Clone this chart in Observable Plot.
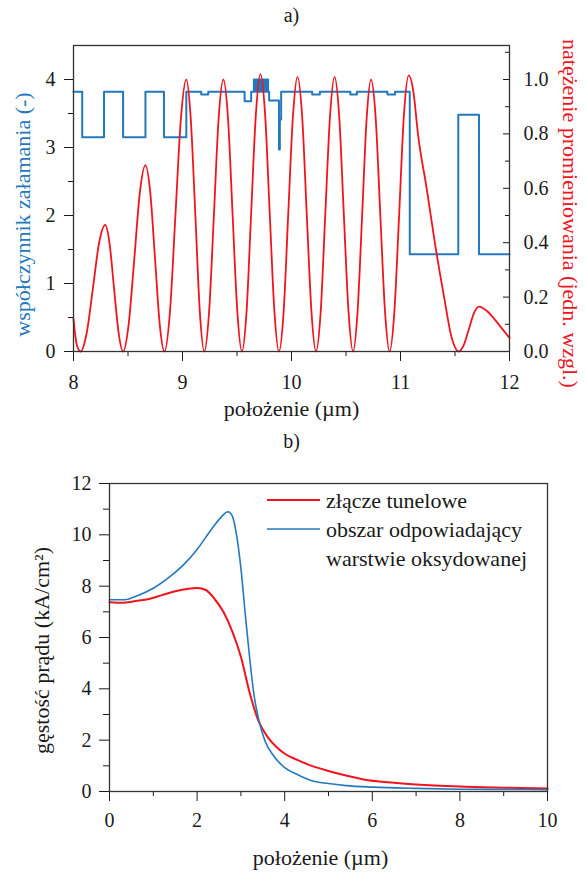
<!DOCTYPE html>
<html><head><meta charset="utf-8">
<script src="https://cdn.jsdelivr.net/npm/d3@7"></script>
<script src="https://cdn.jsdelivr.net/npm/@observablehq/plot@0.6"></script>
<style>
body{margin:0;background:#fff;}
#wrap{position:relative;width:587px;height:874px;font-family:'Liberation Serif','Times New Roman',Times,Tinos,'Nimbus Roman','Nimbus Roman No9 L','Noto Serif','DejaVu Serif',FreeSerif,serif;}
#wrap svg{display:block;}
#wrap svg text{font-family:'Liberation Serif','Times New Roman',Times,Tinos,'Nimbus Roman','Nimbus Roman No9 L','Noto Serif','DejaVu Serif',FreeSerif,serif;}
#legend{position:absolute;left:0;top:0;pointer-events:none;}
</style></head><body><div id="wrap"></div>
<script>
// ---------- Panel a data ----------
// refractive index profile (step-after breakpoints)
const stepX = [8.0, 8.08, 8.28, 8.455, 8.66, 8.83, 9.035, 9.172, 9.236, 9.57, 9.63,
  9.655, 9.665, 9.675, 9.685, 9.695, 9.705, 9.715, 9.725, 9.735, 9.745, 9.755, 9.765, 9.775, 9.785,
  9.795, 9.885, 9.893, 9.905, 10.19, 10.26, 10.54, 10.60, 10.88, 10.95, 11.085, 11.53, 11.72, 12.0];
const stepN = [3.82, 3.15, 3.82, 3.15, 3.82, 3.15, 3.82, 3.78, 3.82, 3.68, 3.82,
  4.0, 3.82, 4.0, 3.82, 4.0, 3.82, 4.0, 3.82, 4.0, 3.82, 4.0, 3.82, 4.0, 3.82,
  3.69, 2.97, 3.41, 3.82, 3.78, 3.82, 3.78, 3.82, 3.78, 3.82, 1.43, 3.48, 1.43, 1.43];
// optical intensity (relative units)
const intX = [8.00, 8.03, 8.065, 8.121, 8.178, 8.234, 8.29, 8.331, 8.372, 8.414, 8.455,
  8.506, 8.558, 8.609, 8.66, 8.704, 8.748, 8.791, 8.835, 8.885, 8.935, 8.985, 9.035,
  9.076, 9.118, 9.159, 9.20, 9.244, 9.288, 9.331, 9.375, 9.418, 9.46, 9.503, 9.545,
  9.588, 9.63, 9.673, 9.715, 9.758, 9.80, 9.843, 9.885, 9.928, 9.97, 10.013, 10.055,
  10.098, 10.14, 10.183, 10.225, 10.268, 10.31, 10.353, 10.395, 10.438, 10.48, 10.523, 10.565,
  10.606, 10.648, 10.689, 10.73, 10.773, 10.815, 10.858, 10.90, 10.944, 10.988, 11.031, 11.075,
  11.12, 11.16, 11.24, 11.315, 11.40, 11.47, 11.535, 11.581, 11.628, 11.674, 11.72,
  11.79, 11.86, 11.93, 12.0];
const intI = [0.12, 0.025, 0.0, 0.068, 0.232, 0.397, 0.465, 0.397, 0.232, 0.068, 0.0,
  0.100, 0.342, 0.585, 0.685, 0.585, 0.342, 0.100, 0.0, 0.146, 0.50, 0.854, 1.0,
  0.854, 0.50, 0.146, 0.0, 0.146, 0.50, 0.854, 1.0, 0.854, 0.50, 0.146, 0.0,
  0.149, 0.51, 0.871, 1.02, 0.871, 0.51, 0.149, 0.0, 0.147, 0.505, 0.863, 1.01,
  0.863, 0.505, 0.147, 0.0, 0.147, 0.505, 0.863, 1.01, 0.863, 0.505, 0.147, 0.0,
  0.146, 0.50, 0.854, 1.0, 0.854, 0.50, 0.146, 0.0, 0.148, 0.507, 0.867, 1.015,
  0.95, 0.80, 0.60, 0.40, 0.20, 0.05, 0.0, 0.024, 0.083, 0.141, 0.165,
  0.15, 0.12, 0.085, 0.05];
const xTicksA = [8, 9, 10, 11, 12];
const xMinorA = [8.5, 9.5, 10.5, 11.5];
const yTicksA = [0, 1, 2, 3, 4];
const yMinorA = [0.5, 1.5, 2.5, 3.5];
const rTicksA = [0.0, 0.2, 0.4, 0.6, 0.8, 1.0];
const rMinorA = [0.1, 0.3, 0.5, 0.7, 0.9, 1.1];

// ---------- Panel b data ----------
const tunnelX = [0, 0.3, 0.6, 0.9, 1.2, 1.5, 1.8, 2.0, 2.2, 2.4, 2.6, 2.8, 3.0, 3.2, 3.4, 3.6, 3.8,
  4.0, 4.3, 4.6, 5.0, 5.4, 5.8, 6.5, 7.0, 8.0, 9.0, 10.0];
const tunnelJ = [7.37, 7.35, 7.42, 7.5, 7.65, 7.8, 7.9, 7.93, 7.85, 7.5, 7.0, 6.25, 5.25, 3.85, 2.75,
  2.15, 1.75, 1.47, 1.22, 1.01, 0.8, 0.62, 0.47, 0.34, 0.27, 0.19, 0.15, 0.12];
const oxideX = [0, 0.35, 0.65, 1.0, 1.4, 1.7, 2.0, 2.3, 2.55, 2.7, 2.8, 2.9, 3.0, 3.1, 3.2, 3.3, 3.4,
  3.55, 3.75, 4.0, 4.3, 4.6, 5.0, 5.4, 6.0, 7.0, 8.0, 9.0, 10.0];
const oxideJ = [7.47, 7.47, 7.64, 7.92, 8.4, 8.85, 9.43, 10.15, 10.69, 10.9, 10.75, 10.0, 8.7, 6.9,
  5.2, 3.75, 2.85, 1.97, 1.38, 0.93, 0.65, 0.43, 0.31, 0.23, 0.17, 0.12, 0.09, 0.08, 0.07];
const xTicksB = [0, 2, 4, 6, 8, 10];
const xMinorB = [1, 3, 5, 7, 9];
const yTicksB = [0, 2, 4, 6, 8, 10, 12];
const yMinorB = [1, 3, 5, 7, 9, 11];
const legendLabels = ["złącze tunelowe", "obszar odpowiadający", "warstwie oksydowanej"];

// ---------- styles ----------
const FONT = "'Liberation Serif','Times New Roman',Times,Tinos,'Nimbus Roman','Noto Serif','DejaVu Serif',FreeSerif,serif";
const BLUE = "#2378be";
const RED = "#f0141e";
const INK = "#1a1a1a";
const K = 4; // right-axis 1.0 aligns with left-axis 4

const stepData = stepX.map((x, i) => ({x, n: stepN[i]}));
const intData = intX.map((x, i) => ({x, v: intI[i]}));
const tunnelData = tunnelX.map((x, i) => ({x, j: tunnelJ[i]}));
const oxideData = oxideX.map((x, i) => ({x, j: oxideJ[i]}));
const blank = () => "";

const plotA = Plot.plot({
  width: 587, height: 430,
  marginTop: 45, marginBottom: 79, marginLeft: 73, marginRight: 78,
  style: {fontFamily: FONT, fontSize: "20px", color: INK, background: "white", overflow: "visible"},
  x: {domain: [8, 12]},
  y: {domain: [0, 4.5]},
  marks: [
    Plot.axisX(xTicksA, {tickSize: 10, tickPadding: 13, tickFormat: d => d, label: null, fontSize: 20}),
    Plot.axisX(xMinorA, {tickSize: 5, tickFormat: blank, label: null}),
    Plot.axisY(yTicksA, {tickSize: 9, tickPadding: 9, tickFormat: d => d, label: null, fontSize: 20}),
    Plot.axisY(yMinorA, {tickSize: 5, tickFormat: blank, label: null}),
    Plot.axisY(rTicksA.map(v => v * K), {anchor: "right", tickSize: 7, dx: -7, tickPadding: 14,
      tickFormat: d => (d / K).toFixed(1), label: null, fontSize: 20}),
    Plot.axisY(rMinorA.map(v => v * K), {anchor: "right", tickSize: 5, dx: -5, tickFormat: blank, label: null}),
    Plot.line(stepData, {x: "x", y: "n", curve: "step-after", stroke: BLUE, strokeWidth: 2}),
    Plot.line(intData, {x: "x", y: d => d.v * K, curve: "monotone-x", stroke: RED, strokeWidth: 1.8}),
    Plot.frame({stroke: "#333", strokeWidth: 1.3}),
    Plot.text(["a)"], {text: d => d, frameAnchor: "top", lineAnchor: "middle", textAnchor: "middle", dy: -30, fontSize: 20, fill: INK}),
    Plot.text(["położenie (µm)"], {text: d => d, frameAnchor: "bottom", lineAnchor: "middle", textAnchor: "middle", dy: 57, fontSize: 22, fill: INK}),
    Plot.text(["współczynnik załamania (-)"], {text: d => d, frameAnchor: "left", lineAnchor: "middle", textAnchor: "middle", dx: -51, dy: 16, rotate: -90, fill: BLUE, fontSize: 22}),
    Plot.text(["natężenie promieniowania (jedn. wzgl.)"], {text: d => d, frameAnchor: "right", lineAnchor: "middle", textAnchor: "middle", dx: 61, dy: 15, rotate: 90, fill: RED, fontSize: 22})
  ]
});

const plotB = Plot.plot({
  width: 587, height: 444,
  marginTop: 53, marginBottom: 83, marginLeft: 109, marginRight: 40,
  style: {fontFamily: FONT, fontSize: "20px", color: INK, background: "white", overflow: "visible"},
  x: {domain: [0, 10]},
  y: {domain: [0, 12]},
  marks: [
    Plot.axisX(xTicksB, {tickSize: 10, tickPadding: 11, tickFormat: d => d, label: null, fontSize: 20}),
    Plot.axisX(xMinorB, {tickSize: 5, tickFormat: blank, label: null}),
    Plot.axisY(yTicksB, {tickSize: 10, tickPadding: 8, tickFormat: d => d, label: null, fontSize: 20}),
    Plot.axisY(yMinorB, {tickSize: 6, tickFormat: blank, label: null}),
    Plot.line(tunnelData, {x: "x", y: "j", curve: "monotone-x", stroke: RED, strokeWidth: 2}),
    Plot.line(oxideData, {x: "x", y: "j", curve: "monotone-x", stroke: BLUE, strokeWidth: 1.6}),
    Plot.frame({stroke: "#333", strokeWidth: 1.3}),
    Plot.text(["b)"], {text: d => d, frameAnchor: "top", lineAnchor: "middle", textAnchor: "middle", dx: -37, dy: -42, fontSize: 20, fill: INK}),
    Plot.text(["położenie (µm)"], {text: d => d, frameAnchor: "bottom", lineAnchor: "middle", textAnchor: "middle", dx: -8, dy: 66, fontSize: 22, fill: INK}),
    Plot.text(["gęstość prądu (kA/cm²)"], {text: d => d, frameAnchor: "left", lineAnchor: "middle", textAnchor: "middle", dx: -68, dy: 13, rotate: -90, fill: INK, fontSize: 22})
  ]
});

const wrap = document.getElementById("wrap");
wrap.appendChild(plotA);
wrap.appendChild(plotB);

// legend overlay for panel b (inside the frame, top-right)
const ns = "http://www.w3.org/2000/svg";
const leg = document.createElementNS(ns, "svg");
leg.setAttribute("id", "legend");
leg.setAttribute("width", 587);
leg.setAttribute("height", 874);
const rows = [
  {label: legendLabels[0], color: RED, w: 2, line: true, cy: 500},
  {label: legendLabels[1], color: BLUE, w: 1.4, line: true, cy: 529},
  {label: legendLabels[2], color: null, w: 0, line: false, cy: 558}
];
rows.forEach(r => {
  if (r.line) {
    const l = document.createElementNS(ns, "line");
    l.setAttribute("x1", 267); l.setAttribute("x2", 320);
    l.setAttribute("y1", r.cy); l.setAttribute("y2", r.cy);
    l.setAttribute("stroke", r.color); l.setAttribute("stroke-width", r.w);
    leg.appendChild(l);
  }
  const t = document.createElementNS(ns, "text");
  t.setAttribute("x", 326); t.setAttribute("y", r.cy + 8);
  t.setAttribute("font-size", 22);
  t.setAttribute("fill", INK);
  t.textContent = r.label;
  leg.appendChild(t);
});
wrap.appendChild(leg);
</script></body></html>
